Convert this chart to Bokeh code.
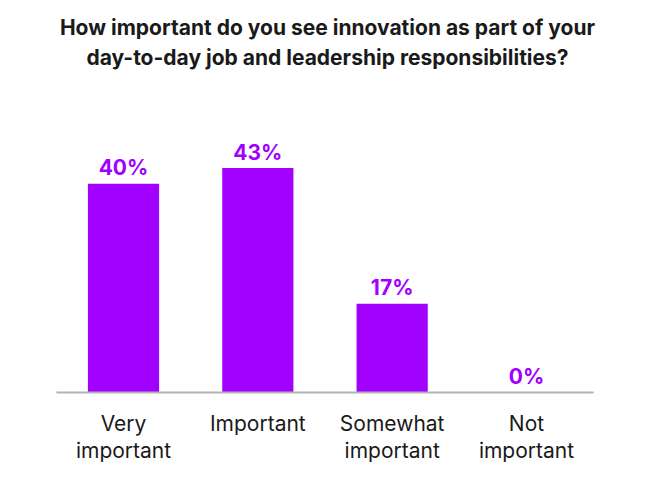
from bokeh.plotting import figure
from bokeh.models import Range1d, ColumnDataSource, Label
from bokeh.core.properties import value
from bokeh.embed import file_html
from bokeh.resources import INLINE

# ---- data ----
categories = ["Very\nimportant", "Important", "Somewhat\nimportant", "Not\nimportant"]
values = [40, 43, 17, 0]
value_labels = ["40%", "43%", "17%", "0%"]
title_lines = ["How important do you see innovation as part of your",
               "day-to-day job and leadership responsibilities?"]

PURPLE = "#A100FF"
DARK = "#1a1a1a"
FONT = "Inter"

xs = list(range(len(categories)))
src = ColumnDataSource(dict(x=xs, top=values, label=value_labels, cat=categories,
                            base=[0] * len(xs)))

# the frame fills the whole canvas; scales place bars, labels and baseline
p = figure(width=633, height=462, output_backend="svg", toolbar_location=None,
           x_range=Range1d(-0.9157, 3.7966), y_range=Range1d(-13.41, 75.1),
           min_border_left=0, min_border_right=0, min_border_top=0,
           min_border_bottom=0)
p.axis.visible = False
p.xgrid.grid_line_color = None
p.ygrid.grid_line_color = None
p.outline_line_color = None

# title: two centred lines
for line, sy in zip(title_lines, [435, 405]):
    p.add_layout(Label(x=327, y=sy, x_units="screen", y_units="screen",
                       text=line, text_align="center", text_baseline="middle",
                       text_font=FONT, text_font_size="21px",
                       text_font_style="bold", text_color=DARK))

# bars
p.vbar(x="x", top="top", bottom="base", width=0.53, source=src,
       color=PURPLE, line_color=None)

# baseline across the category extent
p.segment(x0=[xs[0] - 0.5], x1=[xs[-1] + 0.5], y0=[0], y1=[0],
          line_color="#b3b3b3", line_width=2)

# value labels
p.text(x="x", y="top", text="label", source=src, text_align="center",
       text_baseline="alphabetic", y_offset=-16, text_font=value(FONT),
       text_font_style="bold", text_font_size="21px", text_color=PURPLE)

# category labels
p.text(x="x", y="base", text="cat", source=src, text_align="center",
       text_baseline="top", y_offset=18, text_line_height=1.1,
       text_font=value(FONT), text_font_size="21px", text_color=DARK)

open("out.html", "w").write(file_html(p, INLINE))
